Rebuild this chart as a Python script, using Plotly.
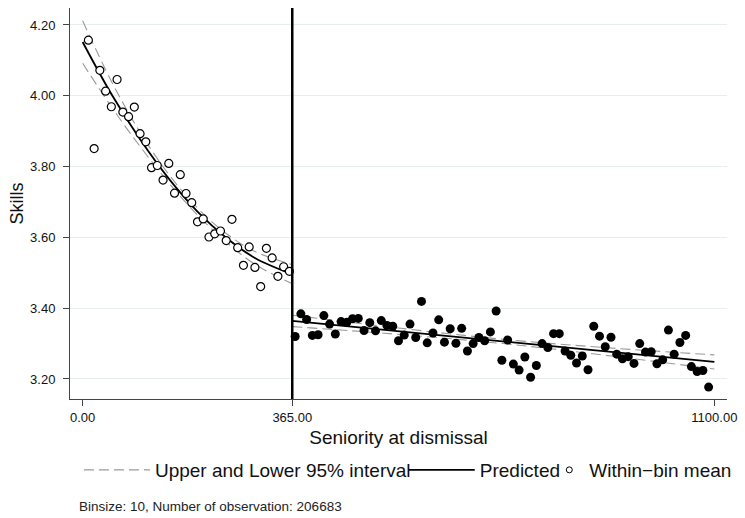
import plotly.graph_objects as go

FONT = "Liberation Sans, Arial, Helvetica, sans-serif"

CUTOFF = 365

x_left = [10, 20, 30, 40, 50, 60, 70, 80, 90, 100, 110, 120, 130, 140, 150, 160, 170, 180,
          190, 200, 210, 220, 230, 240, 250, 260, 270, 280, 290, 300, 310, 320, 330, 340, 350, 360]
y_left = [4.157, 3.851, 4.072, 4.013, 3.969, 4.046, 3.954, 3.941, 3.968, 3.893, 3.870, 3.797,
          3.803, 3.762, 3.809, 3.725, 3.777, 3.724, 3.698, 3.644, 3.652, 3.601, 3.610, 3.618,
          3.591, 3.651, 3.571, 3.521, 3.573, 3.515, 3.461, 3.569, 3.542, 3.490, 3.517, 3.504]

x_right = [370, 380, 390, 400, 410, 420, 430, 440, 450, 460, 470, 480, 490, 500, 510, 520, 530,
           540, 550, 560, 570, 580, 590, 600, 610, 620, 630, 640, 650, 660, 670, 680, 690, 700,
           710, 720, 730, 740, 750, 760, 770, 780, 790, 800, 810, 820, 830, 840, 850, 860, 870,
           880, 890, 900, 910, 920, 930, 940, 950, 960, 970, 980, 990, 1000, 1010, 1020, 1030,
           1040, 1050, 1060, 1070, 1080, 1090]
y_right = [3.320, 3.384, 3.368, 3.323, 3.325, 3.379, 3.355, 3.327, 3.362, 3.360,
           3.370, 3.371, 3.337, 3.359, 3.336, 3.365, 3.351, 3.349, 3.308, 3.324,
           3.355, 3.317, 3.419, 3.302, 3.330, 3.367, 3.304, 3.342, 3.301, 3.343,
           3.279, 3.300, 3.317, 3.308, 3.333, 3.392, 3.253, 3.310, 3.242, 3.225,
           3.262, 3.205, 3.238, 3.300, 3.289, 3.328, 3.328, 3.279, 3.267, 3.245,
           3.265, 3.226, 3.349, 3.321, 3.291, 3.318, 3.270, 3.257, 3.263, 3.244,
           3.300, 3.276, 3.277, 3.243, 3.254, 3.338, 3.270, 3.303, 3.323, 3.235,
           3.221, 3.224, 3.177]

fit_left_x = [0, 50, 100, 150, 200, 250, 300, 365]
pred_left_y = [4.152, 4.005, 3.877, 3.766, 3.673, 3.599, 3.542, 3.496]
upper_left_y = [4.212, 4.041, 3.897, 3.778, 3.683, 3.611, 3.560, 3.523]
lower_left_y = [4.092, 3.969, 3.857, 3.754, 3.663, 3.587, 3.524, 3.469]

pred_right_x = [365, 1100]
pred_right_y = [3.364, 3.248]
band_right_x = [365, 550, 732, 915, 1100]
upper_right_y = [3.380, 3.344, 3.312, 3.288, 3.268]
lower_right_y = [3.348, 3.326, 3.300, 3.266, 3.228]

x_ticks = [0, 365, 1100]
y_ticks = [3.2, 3.4, 3.6, 3.8, 4.0, 4.2]

BAND = dict(color="#9a9a9a", width=1.1, dash="10px,5px")
PRED = dict(color="black", width=1.8)

fig = go.Figure()

# confidence bands
fig.add_trace(go.Scatter(x=fit_left_x, y=upper_left_y, mode="lines", line=BAND, line_shape="spline",
                         name="Upper and Lower 95% interval", legend="legend", showlegend=True))
fig.add_trace(go.Scatter(x=fit_left_x, y=lower_left_y, mode="lines", line=BAND, line_shape="spline",
                         showlegend=False))
fig.add_trace(go.Scatter(x=band_right_x, y=upper_right_y, mode="lines", line=BAND, line_shape="spline",
                         showlegend=False))
fig.add_trace(go.Scatter(x=band_right_x, y=lower_right_y, mode="lines", line=BAND, line_shape="spline",
                         showlegend=False))

# predicted
fig.add_trace(go.Scatter(x=fit_left_x, y=pred_left_y, mode="lines", line=PRED, line_shape="spline",
                         name="Predicted", legend="legend2", showlegend=True))
fig.add_trace(go.Scatter(x=pred_right_x, y=pred_right_y, mode="lines", line=PRED,
                         showlegend=False))

# bin means
fig.add_trace(go.Scatter(x=x_left, y=y_left, mode="markers",
                         marker=dict(symbol="circle", size=8, color="white",
                                     line=dict(color="black", width=1.2)),
                         showlegend=False))
fig.add_trace(go.Scatter(x=x_right, y=y_right, mode="markers",
                         marker=dict(symbol="circle", size=9, color="black",
                                     line=dict(color="black", width=0)),
                         showlegend=False))
# legend entry for the bin means (small symbol as in the original key)
fig.add_trace(go.Scatter(x=[None], y=[None], mode="markers",
                         marker=dict(symbol="circle", size=6, color="white",
                                     line=dict(color="black", width=1)),
                         name="Within\u2212bin mean", legend="legend3", showlegend=True))

fig.add_vline(x=CUTOFF, line=dict(color="black", width=2.5))

leg_common = dict(orientation="h", yanchor="middle", y=-0.1816, xanchor="left",
                  bgcolor="rgba(0,0,0,0)", font=dict(family=FONT, size=19, color="#111"))

fig.update_layout(
    width=745, height=518,
    margin=dict(l=70, r=15, t=8, b=119),
    paper_bgcolor="white", plot_bgcolor="white",
    font=dict(family=FONT, color="#111"),
    legend=dict(x=0.0136, itemwidth=66, **leg_common),
    legend2=dict(x=0.508, itemwidth=66, **leg_common),
    legend3=dict(x=0.7295, itemwidth=30, **leg_common),
    annotations=[dict(text="Binsize: 10, Number of observation: 206683", xref="paper", yref="paper",
                      x=0.0106, y=-0.2737, xanchor="left", yanchor="middle", showarrow=False,
                      font=dict(family=FONT, size=13.5, color="#222"))],
)

fig.update_xaxes(range=[-22, 1122], tickvals=x_ticks, tickformat=".2f",
                 showgrid=False, zeroline=False, showline=True, linecolor="#444", linewidth=1,
                 ticks="outside", ticklen=6, tickcolor="#444",
                 tickfont=dict(family=FONT, size=13, color="#111"),
                 title=dict(text="Seniority at dismissal", font=dict(family=FONT, size=19, color="#111"),
                            standoff=7))
fig.update_yaxes(range=[3.1434, 4.248], tickvals=y_ticks, tickformat=".2f",
                 showgrid=True, gridcolor="#E6EEEF", gridwidth=1, zeroline=False,
                 showline=True, linecolor="#444", linewidth=1,
                 ticks="outside", ticklen=6, tickcolor="#444", ticklabelstandoff=5,
                 tickfont=dict(family=FONT, size=13, color="#111"),
                 title=dict(text="Skills", font=dict(family=FONT, size=18, color="#111"), standoff=1))

fig.write_html("out.html", config={"displayModeBar": False},
               post_script="document.body.style.margin='0px';")
